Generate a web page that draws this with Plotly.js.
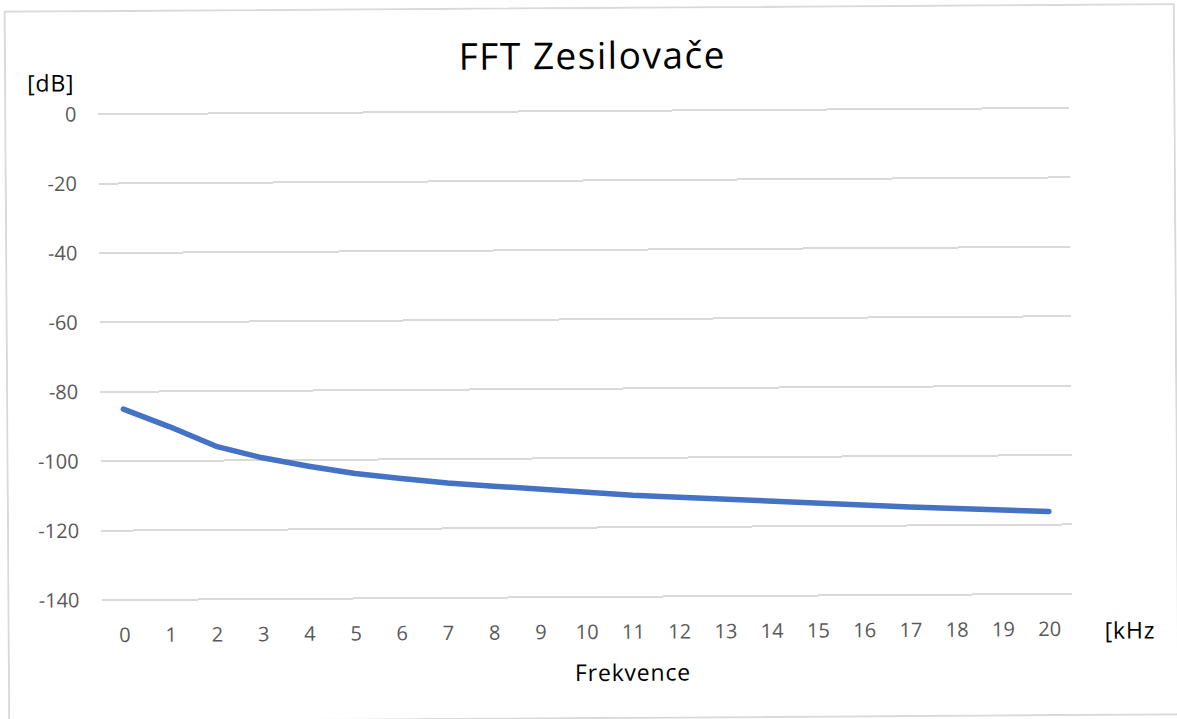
<!DOCTYPE html>
<html>
<head>
<meta charset="utf-8">
<script src="https://cdn.plot.ly/plotly-3.0.1.min.js"></script>
<style>
  html, body { margin: 0; padding: 0; background: #ffffff; width: 1177px; height: 719px; overflow: hidden; }
  #frame {
    position: absolute; left: 6px; top: 7px; width: 1171px; height: 712px;
    border: 2px solid #d9d9d9; box-sizing: border-box; background: #ffffff;
    transform: rotate(-0.37deg); transform-origin: 50% 50%;
  }
  #chart { width: 1167px; height: 708px; }
  .scatterlayer path.js-line { stroke-linecap: round; stroke-linejoin: round; }
  .gtitle { letter-spacing: 1.5px; }
  .annotation-text { letter-spacing: 0.8px; }
</style>
</head>
<body>
<div id="frame"><div id="chart"></div></div>
<script>
// Data
const frequencies = ['0','1','2','3','4','5','6','7','8','9','10','11','12','13','14','15','16','17','18','19','20'];
const levelsDb = [-85.0, -90.2, -95.9, -99.3, -101.8, -104.0, -105.5, -106.9, -107.9, -108.9, -109.9,
                  -110.8, -111.4, -112.1, -112.8, -113.5, -114.1, -114.7, -115.2, -115.7, -116.2];
const yTicks = [0, -20, -40, -60, -80, -100, -120, -140];

const chartTitle = 'FFT Zesilovače';
const yUnit = '[dB]';
const xUnit = '[kHz';
const xTitle = 'Frekvence';

const trace = {
  x: frequencies,
  y: levelsDb,
  type: 'scatter',
  mode: 'lines',
  line: { color: '#4472C4', width: 5.5 },
  hoverinfo: 'skip'
};

const layout = {
  width: 1167,
  height: 708,
  margin: { l: 92, r: 104, t: 101.46, b: 119.46 },
  paper_bgcolor: '#ffffff',
  plot_bgcolor: '#ffffff',
  showlegend: false,
  font: { family: '"Open Sans", sans-serif', color: '#595959' },
  title: {
    text: chartTitle,
    font: { family: '"Open Sans", sans-serif', size: 37, color: '#000000' },
    xref: 'paper', x: 0.509, xanchor: 'center',
    yref: 'container', y: 1 - 47 / 708, yanchor: 'middle'
  },
  xaxis: {
    type: 'category',
    range: [-0.5, 20.5],
    tickvals: frequencies,
    ticktext: frequencies,
    showgrid: false,
    showline: false,
    zeroline: false,
    ticks: '',
    ticklabelstandoff: 20,
    tickfont: { size: 20, color: '#595959' },
    fixedrange: true
  },
  yaxis: {
    range: [-140.3, 0.3],
    tickvals: yTicks,
    ticktext: yTicks.map(String),
    showgrid: true,
    gridcolor: '#d9d9d9',
    gridwidth: 2,
    zeroline: false,
    showline: false,
    ticks: '',
    ticklabelstandoff: 21,
    tickfont: { size: 20, color: '#595959' },
    fixedrange: true
  },
  annotations: [
    { text: yUnit, xref: 'paper', yref: 'paper', x: -0.0494, y: 1.0639,
      xanchor: 'center', yanchor: 'middle', showarrow: false,
      font: { family: '"Open Sans", sans-serif', size: 23, color: '#000000' } },
    { text: xUnit, xref: 'paper', yref: 'paper', x: 1.0309, y: -0.0722,
      xanchor: 'left', yanchor: 'middle', showarrow: false,
      font: { family: '"Open Sans", sans-serif', size: 23, color: '#000000' } },
    { text: xTitle, xref: 'paper', yref: 'paper', x: 0.547, y: -0.1515,
      xanchor: 'center', yanchor: 'middle', showarrow: false,
      font: { family: '"Open Sans", sans-serif', size: 23, color: '#000000' } }
  ]
};

Plotly.newPlot('chart', [trace], layout, { displayModeBar: false, staticPlot: true });
</script>
</body>
</html>
